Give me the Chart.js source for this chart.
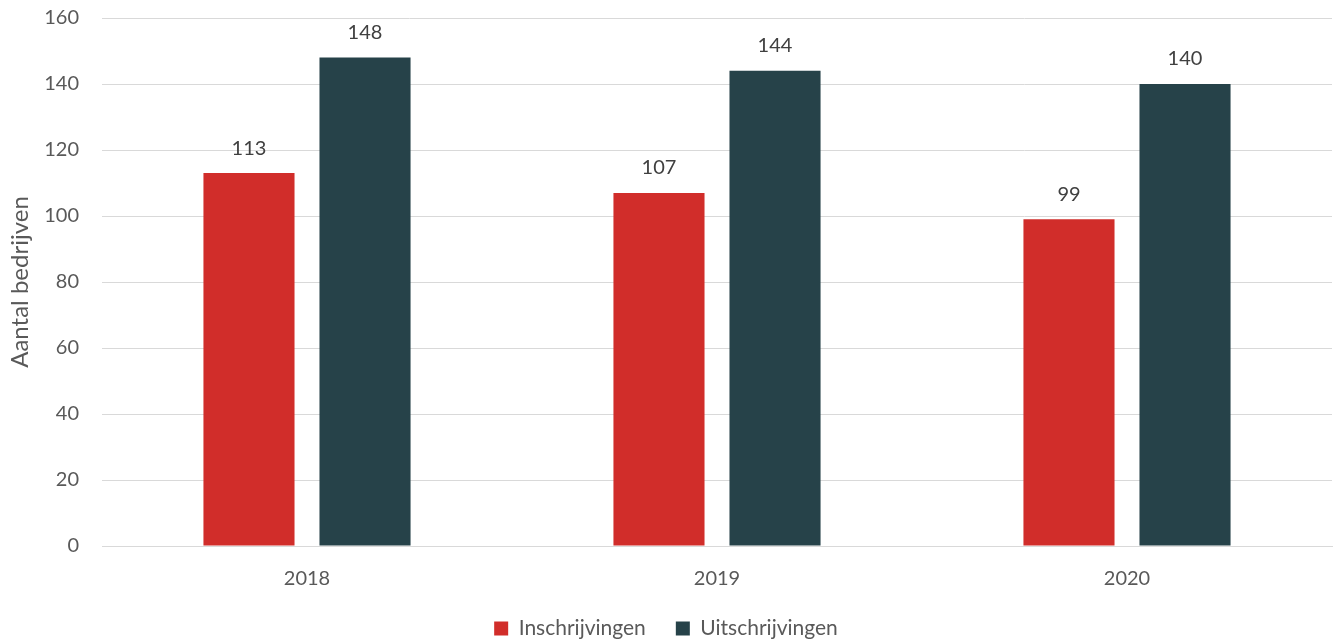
<!DOCTYPE html>
<html lang="nl">
<head>
    <meta charset="UTF-8">
    <title>Inschrijvingen en uitschrijvingen</title>
    <script src="https://cdn.jsdelivr.net/npm/chart.js"></script>
    <style>
        html, body {
            margin: 0;
            padding: 0;
            background: #fff;
        }
        #wrap {
            position: relative;
            width: 1335px;
            height: 641px;
        }
    </style>
</head>
<body>
    <div id="wrap">
        <canvas id="barChart"></canvas>
    </div>

    <script>
        const years = ['2018', '2019', '2020'];
        const inschrijvingen = [113, 107, 99];
        const uitschrijvingen = [148, 144, 140];
        const yTicks = [0, 20, 40, 60, 80, 100, 120, 140, 160];

        const textColor = '#595959';
        const fontFamily = 'Lato, "Open Sans", sans-serif';

        // draws the value above each bar
        const valueLabels = {
            id: 'valueLabels',
            afterDatasetsDraw(chart) {
                const ctx = chart.ctx;
                ctx.save();
                ctx.font = '20px ' + fontFamily;
                ctx.fillStyle = '#404040';
                ctx.textAlign = 'center';
                ctx.textBaseline = 'middle';
                chart.data.datasets.forEach((ds, i) => {
                    chart.getDatasetMeta(i).data.forEach((bar, j) => {
                        ctx.fillText(ds.data[j], bar.x, bar.y - 25);
                    });
                });
                ctx.restore();
            }
        };

        new Chart(document.getElementById('barChart'), {
            type: 'bar',
            data: {
                labels: years,
                datasets: [
                    {
                        label: 'Inschrijvingen',
                        data: inschrijvingen,
                        backgroundColor: '#D12D2A'
                    },
                    {
                        label: 'Uitschrijvingen',
                        data: uitschrijvingen,
                        backgroundColor: '#264249'
                    }
                ]
            },
            options: {
                responsive: true,
                maintainAspectRatio: false,
                animation: false,
                categoryPercentage: 0.566,
                barPercentage: 0.785,
                layout: { padding: { top: 0, right: 3, left: 0, bottom: -8 } },
                plugins: {
                    tooltip: { enabled: false },
                    legend: {
                        position: 'bottom',
                        labels: {
                            color: textColor,
                            font: { family: fontFamily, size: 21 },
                            boxWidth: 14,
                            boxHeight: 14,
                            padding: 30
                        }
                    }
                },
                scales: {
                    x: {
                        grid: { display: false },
                        border: { color: '#d9d9d9', width: 1 },
                        ticks: {
                            color: textColor,
                            font: { family: fontFamily, size: 20, lineHeight: 1 },
                            padding: 15
                        },
                        afterFit(axis) {
                            axis.height = 42;
                        }
                    },
                    y: {
                        min: 0,
                        max: 160,
                        afterBuildTicks(axis) {
                            axis.ticks = yTicks.map(v => ({ value: v }));
                        },
                        afterFit(axis) {
                            axis.width = 102;
                            axis.paddingTop = 18;
                            axis.paddingBottom = 0;
                        },
                        grid: { color: '#d9d9d9', drawTicks: false },
                        border: { display: false },
                        ticks: {
                            color: textColor,
                            font: { family: fontFamily, size: 20 },
                            padding: 23
                        },
                        title: {
                            display: true,
                            text: 'Aantal bedrijven',
                            color: textColor,
                            font: { family: fontFamily, size: 24, lineHeight: 1 },
                            padding: { top: 8, bottom: 0 }
                        }
                    }
                }
            },
            plugins: [valueLabels]
        });
    </script>
</body>
</html>
